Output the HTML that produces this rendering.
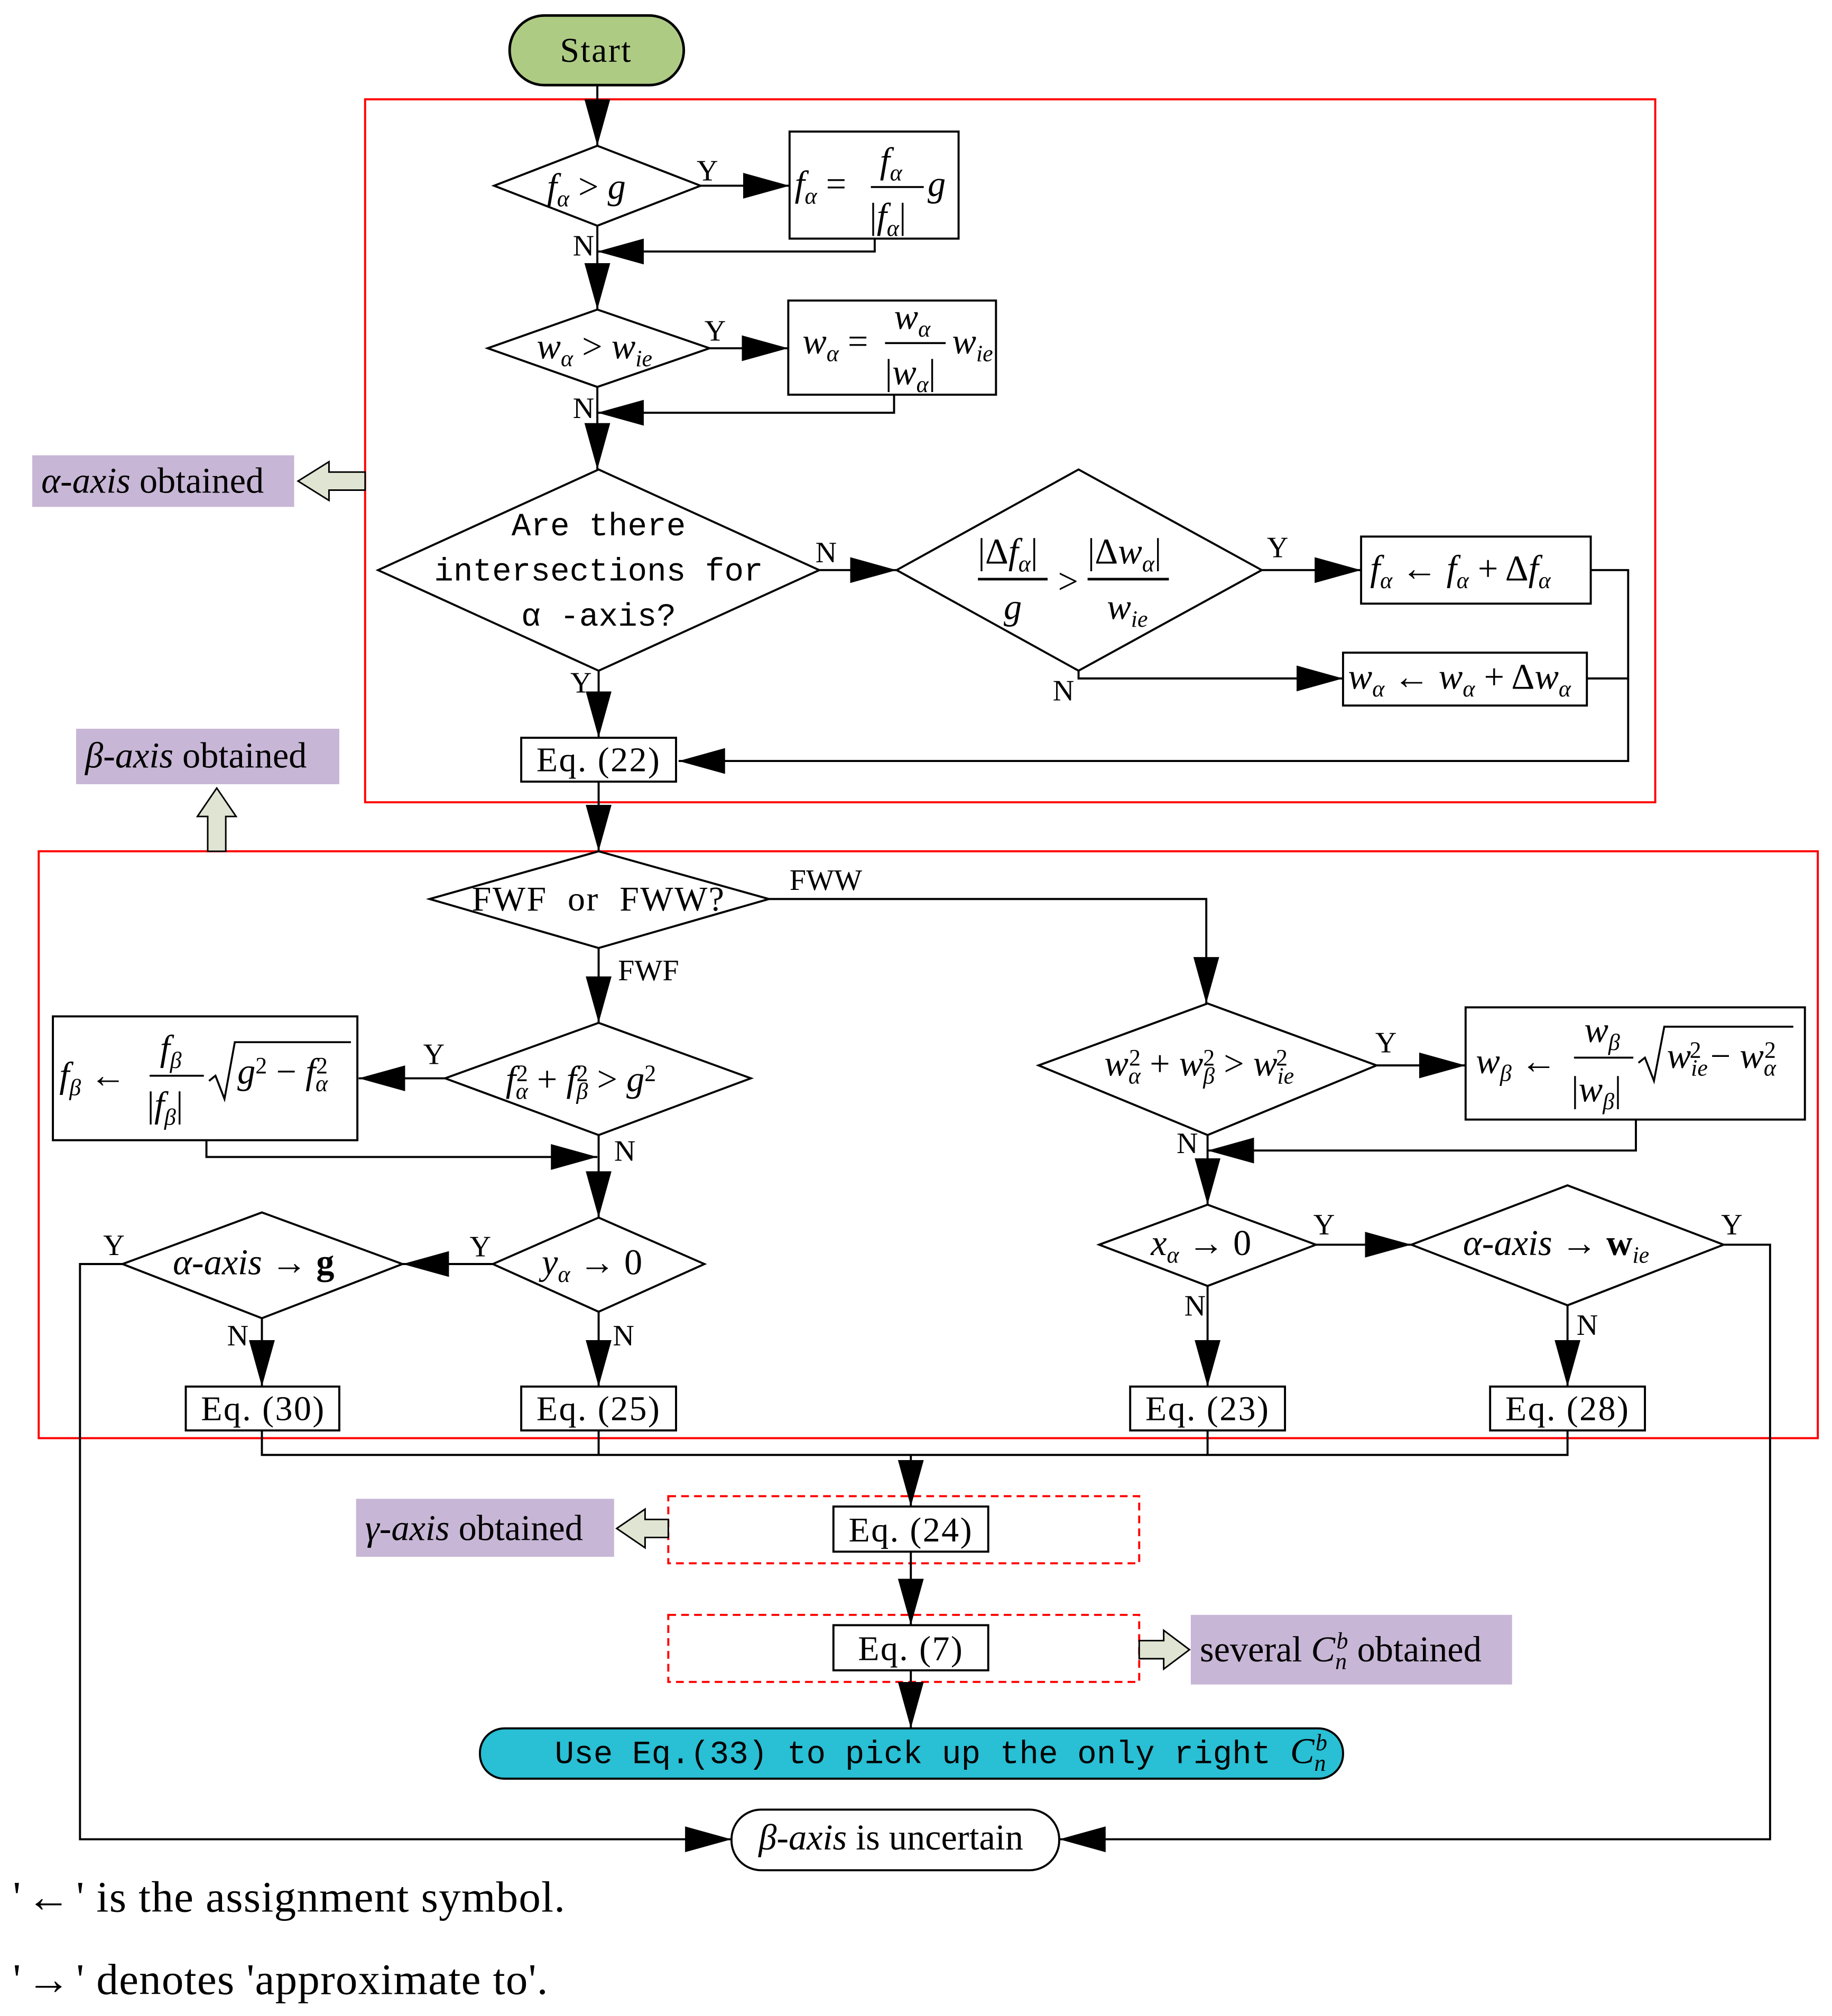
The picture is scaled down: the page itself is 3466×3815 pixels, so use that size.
<!DOCTYPE html>
<html><head><meta charset="utf-8"><style>
html,body{margin:0;padding:0;background:#fff;}
svg{display:block;}
.t{font-family:"Liberation Mono","Noto Serif CJK SC",monospace;font-size:25px;}
.e{font-family:"Liberation Serif",serif;font-size:27px;letter-spacing:1px;}
.m{font-family:"Liberation Serif",serif;font-size:28px;}
.i{font-style:italic;}
.s{font-size:18px;}
.lb{font-family:"Liberation Serif",serif;font-size:23px;}
</style></head><body>
<svg width="3466" height="3815" viewBox="0 0 1420 1563" preserveAspectRatio="none" xmlns="http://www.w3.org/2000/svg">
<defs>
<marker id="a" markerUnits="userSpaceOnUse" markerWidth="40" markerHeight="30" refX="36" refY="10" orient="auto">
<path d="M0,0 L36,10 L0,20 z" fill="#000"/></marker>
</defs>
<g fill="none" stroke="#000" stroke-width="1.6">
<rect x="283" y="77" width="1000" height="545" stroke="#f00"/>
<rect x="30" y="660" width="1379" height="455" stroke="#f00"/>
<rect x="518" y="1160" width="365" height="52" stroke="#f00" stroke-dasharray="6,4"/>
<rect x="518" y="1252" width="365" height="52" stroke="#f00" stroke-dasharray="6,4"/>
<rect x="395" y="12" width="135" height="54" rx="27" fill="#aecb84" stroke-width="2"/>
<line x1="463" y1="66" x2="463" y2="113" marker-end="url(#a)"/>
<polygon points="383,144 463,113 543,144 463,175"/>
<line x1="543" y1="144" x2="612" y2="144" marker-end="url(#a)"/>
<rect x="612" y="102" width="131" height="83"/>
<polyline points="678,185 678,195 463,195" marker-end="url(#a)"/>
<line x1="463" y1="175" x2="463" y2="240" marker-end="url(#a)"/>
<polygon points="378,270 463,240 550,270 463,300"/>
<line x1="550" y1="270" x2="611" y2="270" marker-end="url(#a)"/>
<rect x="611" y="233" width="161" height="73"/>
<polyline points="693,306 693,320 463,320" marker-end="url(#a)"/>
<line x1="463" y1="300" x2="463" y2="364" marker-end="url(#a)"/>
<polygon points="293,442 464,364 635,442 464,520"/>
<line x1="635" y1="442" x2="695" y2="442" marker-end="url(#a)"/>
<polygon points="695,442 836,364 978,442 836,520"/>
<line x1="978" y1="442" x2="1055" y2="442" marker-end="url(#a)"/>
<rect x="1055" y="416" width="178" height="52"/>
<polyline points="836,520 836,526 1041,526" marker-end="url(#a)"/>
<rect x="1041" y="506" width="189" height="41"/>
<polyline points="1233,442 1262,442 1262,590 526,590" marker-end="url(#a)"/>
<line x1="1230" y1="526" x2="1262" y2="526"/>
<line x1="464" y1="520" x2="464" y2="572" marker-end="url(#a)"/>
<rect x="404" y="572" width="120" height="34"/>
<line x1="464" y1="606" x2="464" y2="660" marker-end="url(#a)"/>
<polygon points="333,697 464,660 596,697 464,735"/>
<polyline points="596,697 935,697 935,778" marker-end="url(#a)"/>
<line x1="464" y1="735" x2="464" y2="793" marker-end="url(#a)"/>
<polygon points="345,836 464,793 582,836 464,880"/>
<line x1="345" y1="836" x2="278" y2="836" marker-end="url(#a)"/>
<rect x="41" y="788" width="236" height="96"/>
<polyline points="160,884 160,897 463,897" marker-end="url(#a)"/>
<line x1="464" y1="880" x2="464" y2="944" marker-end="url(#a)"/>
<polygon points="382,980 464,944 546,980 464,1017"/>
<line x1="382" y1="980" x2="312" y2="980" marker-end="url(#a)"/>
<polygon points="95,980 203,940 312,980 203,1022"/>
<polyline points="95,980 62,980 62,1426 567,1426" marker-end="url(#a)"/>
<line x1="203" y1="1022" x2="203" y2="1075" marker-end="url(#a)"/>
<rect x="144" y="1075" width="119" height="34"/>
<line x1="464" y1="1017" x2="464" y2="1075" marker-end="url(#a)"/>
<rect x="404" y="1075" width="120" height="34"/>
<polygon points="805,826 936,778 1067,826 936,880"/>
<line x1="1067" y1="826" x2="1136" y2="826" marker-end="url(#a)"/>
<rect x="1136" y="781" width="263" height="87"/>
<polyline points="1268,868 1268,892 936,892" marker-end="url(#a)"/>
<line x1="936" y1="880" x2="936" y2="934" marker-end="url(#a)"/>
<polygon points="852,965 936,934 1020,965 936,997"/>
<line x1="1020" y1="965" x2="1094" y2="965" marker-end="url(#a)"/>
<polygon points="1094,965 1215,919 1336,965 1215,1012"/>
<polyline points="1336,965 1372,965 1372,1426 821,1426" marker-end="url(#a)"/>
<line x1="936" y1="997" x2="936" y2="1075" marker-end="url(#a)"/>
<rect x="876" y="1075" width="120" height="34"/>
<line x1="1215" y1="1012" x2="1215" y2="1075" marker-end="url(#a)"/>
<rect x="1155" y="1075" width="120" height="34"/>
<polyline points="203,1109 203,1128 1215,1128 1215,1109"/>
<line x1="464" y1="1109" x2="464" y2="1128"/>
<line x1="936" y1="1109" x2="936" y2="1128"/>
<line x1="706" y1="1128" x2="706" y2="1168" marker-end="url(#a)"/>
<rect x="646" y="1168" width="120" height="35"/>
<line x1="706" y1="1203" x2="706" y2="1260" marker-end="url(#a)"/>
<rect x="646" y="1260" width="120" height="35"/>
<line x1="706" y1="1295" x2="706" y2="1340" marker-end="url(#a)"/>
<rect x="372" y="1340" width="669" height="39" rx="19" fill="#29bfd4"/>
<rect x="567" y="1403" width="254" height="47" rx="23"/>
</g>
<rect x="25" y="353" width="203" height="40" fill="#c8b6d6"/>
<rect x="59" y="565" width="204" height="43" fill="#c8b6d6"/>
<rect x="276" y="1162" width="200" height="45" fill="#c8b6d6"/>
<rect x="923" y="1252" width="249" height="54" fill="#c8b6d6"/>
<g fill="#dfe5d2" stroke="#000" stroke-width="1.2">
<polygon points="283,366 255,366 255,358 231,373 255,388 255,380 283,380"/>
<polygon points="161,660 161,633 153,633 168,611 183,633 175,633 175,660"/>
<polygon points="518,1178 500,1178 500,1170 478,1185 500,1200 500,1192 518,1192"/>
<polygon points="883,1272 902,1272 902,1264 922,1279 902,1294 902,1286 883,1286"/>
</g>
<g class="t" text-anchor="middle">
<text x="462" y="48" class="e" font-size="29">Start</text>
<text x="464" y="415">Are there</text>
<text x="464" y="450">intersections for</text>
<text x="464" y="485">α -axis?</text>
<text x="464" y="706" class="e" word-spacing="8">FWF or FWW?</text>
</g>
<g class="e" text-anchor="middle">
<text x="464" y="598">Eq. (22)</text>
<text x="204" y="1101">Eq. (30)</text>
<text x="464" y="1101">Eq. (25)</text>
<text x="936" y="1101">Eq. (23)</text>
<text x="1215" y="1101">Eq. (28)</text>
<text x="706" y="1195">Eq. (24)</text>
<text x="706" y="1287">Eq. (7)</text>
</g>
<g class="lb">
<text x="540" y="140">Y</text><text x="444" y="198">N</text>
<text x="546" y="264">Y</text><text x="444" y="324">N</text>
<text x="632" y="436">N</text><text x="982" y="432">Y</text>
<text x="816" y="543">N</text><text x="442" y="537">Y</text>
<text x="612" y="690">FWW</text><text x="479" y="760">FWF</text>
<text x="328" y="825">Y</text><text x="476" y="900">N</text>
<text x="364" y="974">Y</text><text x="80" y="973">Y</text>
<text x="176" y="1043">N</text><text x="475" y="1043">N</text>
<text x="1066" y="816">Y</text><text x="912" y="894">N</text>
<text x="1018" y="957">Y</text><text x="1334" y="957">Y</text>
<text x="918" y="1020">N</text><text x="1222" y="1035">N</text>
</g>
<g class="m">
<text x="424" y="154"><tspan class="i">f</tspan><tspan class="i s" dy="6">α</tspan><tspan dy="-6"> &gt; </tspan><tspan class="i">g</tspan></text>
<text x="616" y="152"><tspan class="i">f</tspan><tspan class="i s" dy="6">α</tspan><tspan dy="-6"> = </tspan></text>
<text x="682" y="134" class="i">f<tspan class="s" dy="6">α</tspan></text>
<line x1="675" y1="145" x2="716" y2="145" stroke="#000" stroke-width="1.5"/>
<text x="674" y="177">|<tspan class="i">f</tspan><tspan class="i s" dy="6">α</tspan><tspan dy="-6">|</tspan></text>
<text x="719" y="152" class="i">g</text>
<text x="416" y="278"><tspan class="i">w</tspan><tspan class="i s" dy="6">α</tspan><tspan dy="-6"> &gt; </tspan><tspan class="i">w</tspan><tspan class="i s" dy="6">ie</tspan></text>
<text x="622" y="274"><tspan class="i">w</tspan><tspan class="i s" dy="6">α</tspan><tspan dy="-6"> =</tspan></text>
<text x="693" y="255" class="i">w<tspan class="s" dy="6">α</tspan></text>
<line x1="686" y1="266" x2="733" y2="266" stroke="#000" stroke-width="1.5"/>
<text x="686" y="298">|<tspan class="i">w</tspan><tspan class="i s" dy="6">α</tspan><tspan dy="-6">|</tspan></text>
<text x="738" y="274" class="i">w<tspan class="s" dy="6">ie</tspan></text>
<text x="758" y="437">|Δ<tspan class="i">f</tspan><tspan class="i s" dy="6">α</tspan><tspan dy="-6">|</tspan></text>
<line x1="758" y1="449" x2="812" y2="449" stroke="#000" stroke-width="2"/>
<text x="820" y="460">&gt;</text>
<text x="843" y="437">|Δ<tspan class="i">w</tspan><tspan class="i s" dy="6">α</tspan><tspan dy="-6">|</tspan></text>
<line x1="843" y1="449" x2="906" y2="449" stroke="#000" stroke-width="2"/>
<text x="778" y="480" class="i">g</text>
<text x="858" y="480" class="i">w<tspan class="s" dy="6">ie</tspan></text>
<text x="1062" y="450"><tspan class="i">f</tspan><tspan class="i s" dy="6">α</tspan><tspan dy="-6"> ← </tspan><tspan class="i">f</tspan><tspan class="i s" dy="6">α</tspan><tspan dy="-6"> + Δ</tspan><tspan class="i">f</tspan><tspan class="i s" dy="6">α</tspan></text>
<text x="1045" y="534"><tspan class="i">w</tspan><tspan class="i s" dy="6">α</tspan><tspan dy="-6"> ← </tspan><tspan class="i">w</tspan><tspan class="i s" dy="6">α</tspan><tspan dy="-6"> + Δ</tspan><tspan class="i">w</tspan><tspan class="i s" dy="6">α</tspan></text>
<text x="32" y="382"><tspan class="i">α-axis</tspan> obtained</text>
<text x="66" y="595"><tspan class="i">β-axis</tspan> obtained</text>
<text x="283" y="1194"><tspan class="i">γ-axis</tspan> obtained</text>
<text x="930" y="1288">several <tspan class="i">C</tspan><tspan class="i s" dy="6">n</tspan><tspan class="i s" dx="-8" dy="-16">b</tspan><tspan dy="10"> obtained</tspan></text>
<text x="392" y="846"><tspan class="i">f</tspan><tspan class="i s" dy="6">α</tspan><tspan class="s" dx="-9" dy="-14">2</tspan><tspan dy="8"> + </tspan><tspan class="i">f</tspan><tspan class="i s" dy="6">β</tspan><tspan class="s" dx="-9" dy="-14">2</tspan><tspan dy="8"> &gt; </tspan><tspan class="i">g</tspan><tspan class="s" dy="-8">2</tspan></text>
<text x="46" y="843"><tspan class="i">f</tspan><tspan class="i s" dy="6">β</tspan><tspan dy="-6"> ←</tspan></text>
<text x="124" y="822" class="i">f<tspan class="s" dy="6">β</tspan></text>
<line x1="116" y1="834" x2="158" y2="834" stroke="#000" stroke-width="1.5"/>
<text x="114" y="866">|<tspan class="i">f</tspan><tspan class="i s" dy="6">β</tspan><tspan dy="-6">|</tspan></text>
<polyline points="162,838 167,834 174,852 182,808 272,808" fill="none" stroke="#000" stroke-width="1.5"/>
<text x="184" y="840"><tspan class="i">g</tspan><tspan class="s" dy="-8">2</tspan><tspan dy="8"> − </tspan><tspan class="i">f</tspan><tspan class="i s" dy="6">α</tspan><tspan class="s" dx="-9" dy="-14">2</tspan></text>
<text x="420" y="988"><tspan class="i">y</tspan><tspan class="i s" dy="6">α</tspan><tspan dy="-6"> → 0</tspan></text>
<text x="134" y="988"><tspan class="i">α-axis</tspan> → <tspan font-weight="bold">g</tspan></text>
<text x="856" y="834"><tspan class="i">w</tspan><tspan class="i s" dy="6">α</tspan><tspan class="s" dx="-9" dy="-14">2</tspan><tspan dy="8"> + </tspan><tspan class="i">w</tspan><tspan class="i s" dy="6">β</tspan><tspan class="s" dx="-9" dy="-14">2</tspan><tspan dy="8"> &gt; </tspan><tspan class="i">w</tspan><tspan class="i s" dy="6">ie</tspan><tspan class="s" dx="-14" dy="-14">2</tspan></text>
<text x="1144" y="832"><tspan class="i">w</tspan><tspan class="i s" dy="6">β</tspan><tspan dy="-6"> ←</tspan></text>
<text x="1228" y="808" class="i">w<tspan class="s" dy="6">β</tspan></text>
<line x1="1220" y1="820" x2="1266" y2="820" stroke="#000" stroke-width="1.5"/>
<text x="1218" y="854">|<tspan class="i">w</tspan><tspan class="i s" dy="6">β</tspan><tspan dy="-6">|</tspan></text>
<polyline points="1270,824 1275,820 1282,838 1290,796 1390,796" fill="none" stroke="#000" stroke-width="1.5"/>
<text x="1292" y="828"><tspan class="i">w</tspan><tspan class="i s" dy="6">ie</tspan><tspan class="s" dx="-14" dy="-14">2</tspan><tspan dy="8"> − </tspan><tspan class="i">w</tspan><tspan class="i s" dy="6">α</tspan><tspan class="s" dx="-9" dy="-14">2</tspan></text>
<text x="892" y="973"><tspan class="i">x</tspan><tspan class="i s" dy="6">α</tspan><tspan dy="-6"> → 0</tspan></text>
<text x="1134" y="973"><tspan class="i">α-axis</tspan> → <tspan font-weight="bold">w</tspan><tspan class="i s" dy="6">ie</tspan></text>
<text x="588" y="1434"><tspan class="i">β-axis</tspan> is uncertain</text>
<text x="10" y="1482" font-size="34" letter-spacing="0.5"><tspan>'</tspan><tspan dx="4">←</tspan><tspan dx="4">'</tspan> is the assignment symbol.</text>
<text x="10" y="1546" font-size="34" letter-spacing="0.5"><tspan>'</tspan><tspan dx="4">→</tspan><tspan dx="4">'</tspan> denotes 'approximate to'.</text>
</g>
<text x="430" y="1367" class="t">Use Eq.(33) to pick up the only right <tspan class="m i">C</tspan><tspan class="m i s" dy="6">n</tspan><tspan class="m i s" dx="-8" dy="-16">b</tspan></text>
</svg>
</body></html>
